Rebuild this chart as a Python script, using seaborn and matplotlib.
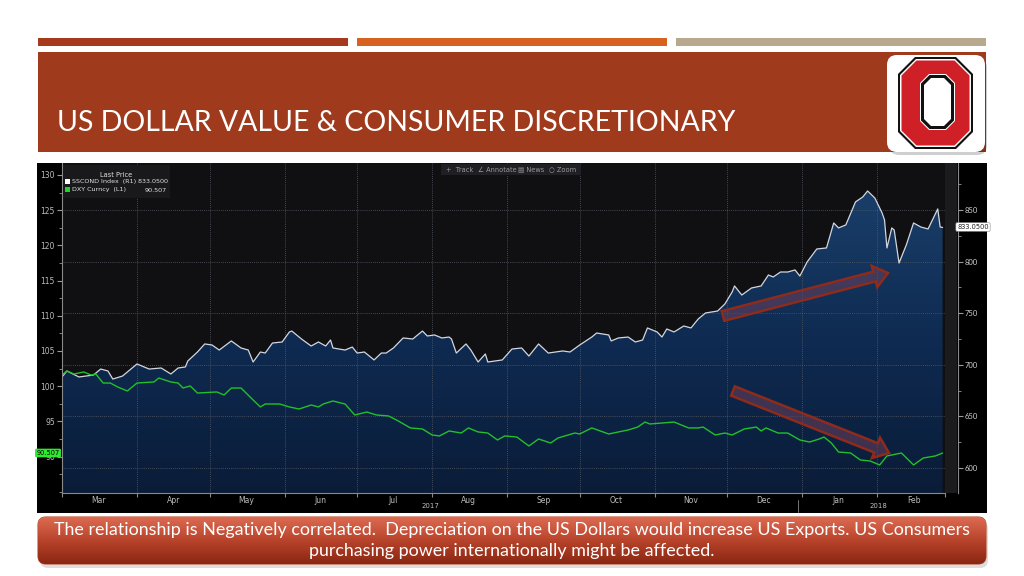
import numpy as np
import pandas as pd
import matplotlib
matplotlib.use("Agg")
import matplotlib.pyplot as plt
import matplotlib.dates as mdates
from matplotlib.ticker import MultipleLocator, NullFormatter
from matplotlib.patches import Rectangle, FancyBboxPatch, Polygon, FancyArrow
from matplotlib.colors import LinearSegmentedColormap
import seaborn as sns

sns.set_style("ticks")
plt.rcParams["font.family"] = ["Lato", "DejaVu Sans"]

title = "US DOLLAR VALUE & CONSUMER DISCRETIONARY"
caption = ["The relationship is Negatively correlated.  Depreciation on the US Dollars would increase US Exports. US Consumers",
           "purchasing power internationally might be affected."]
month_labels_year = ["2017", "2018"]

start = pd.Timestamp("2017-03-01")

# S5COND Index (right axis), days after 2017-03-01
sscond_day = [0, 2, 7, 13, 16, 19, 21, 25, 31, 36, 41, 45, 48, 51, 52, 56, 59, 62, 65, 70,
              74, 77, 79, 82, 84, 87, 91, 94, 95, 99, 103, 106, 109, 111, 112, 117, 120, 122, 125, 129,
              132, 134, 137, 141, 145, 147, 149, 151, 154, 157, 160, 161, 163, 167, 169, 172, 175, 176, 182, 186,
              190, 193, 197, 201, 207, 210, 214, 219, 221, 226, 227, 230, 234, 237, 240, 242, 246, 248, 250, 253,
              257, 260, 263, 266, 271, 274, 277, 278, 281, 285, 289, 292, 294, 297, 300, 303, 305, 308, 312, 316,
              319, 321, 324, 328, 331, 333, 336, 339, 340, 341, 343, 344, 346, 349, 352, 355, 358, 362, 363, 364]
sscond_val = [688.2, 694.0, 688.2, 690.1, 695.9, 694.0, 686.2, 689.1, 700.8, 695.9, 696.9, 691.1, 696.9, 697.9, 703.7, 712.4, 720.2, 719.2, 714.3, 723.1,
              716.3, 714.3, 702.7, 712.4, 711.4, 721.1, 722.1, 731.8, 732.7, 725.0, 718.2, 722.1, 718.2, 724.0, 716.3, 714.3, 717.2, 711.4, 712.4, 704.7,
              711.4, 711.4, 716.3, 726.0, 725.0, 728.9, 732.7, 727.9, 728.9, 726.0, 726.9, 725.0, 711.4, 720.2, 714.3, 702.7, 710.5, 702.7, 704.7, 715.3,
              716.3, 708.5, 720.2, 711.4, 713.4, 712.4, 719.2, 726.9, 730.8, 728.9, 723.1, 726.0, 726.9, 722.1, 724.0, 735.7, 731.8, 726.9, 734.7, 731.8,
              737.6, 735.7, 744.4, 750.2, 752.1, 758.9, 770.5, 776.4, 767.6, 774.4, 776.4, 787.0, 785.1, 789.9, 789.9, 791.9, 786.0, 799.6, 812.2, 813.2,
              837.4, 832.6, 835.5, 857.8, 862.6, 868.4, 861.6, 847.1, 840.3, 813.2, 832.6, 830.6, 798.6, 816.1, 837.4, 833.5, 831.6, 851.0, 833.5, 833.05]

# DXY Curncy (left axis)
dxy_day = [0, 2, 5, 9, 12, 14, 17, 20, 23, 27, 31, 38, 40, 45, 48, 50, 53, 56, 64, 67,
           70, 74, 79, 82, 84, 90, 94, 98, 103, 106, 108, 112, 117, 121, 126, 130, 135, 139, 144, 149,
           153, 156, 160, 165, 168, 172, 176, 180, 183, 188, 193, 197, 202, 205, 212, 214, 219, 226, 230, 234,
           238, 241, 243, 248, 253, 259, 263, 265, 270, 274, 277, 282, 287, 289, 291, 296, 300, 305, 309, 313,
           315, 318, 321, 326, 330, 334, 338, 341, 347, 352, 356, 361, 364]
dxy_val = [101.59, 102.16, 101.73, 102.02, 101.59, 101.73, 100.45, 100.45, 99.89, 99.32, 100.45, 100.60, 101.16, 100.60, 100.45, 99.74, 100.03, 99.03, 99.18, 98.75,
           99.74, 99.74, 98.04, 97.05, 97.47, 97.47, 97.05, 96.76, 97.33, 97.05, 97.47, 97.90, 97.47, 95.91, 96.33, 95.91, 95.77, 95.06, 94.07, 93.92,
           93.07, 92.93, 93.64, 93.35, 94.07, 93.50, 93.35, 92.36, 92.93, 92.78, 91.51, 92.50, 91.93, 92.64, 93.35, 93.21, 94.07, 93.21, 93.50, 93.78,
           94.20, 94.91, 94.63, 94.77, 94.91, 94.07, 94.07, 94.20, 93.07, 93.35, 93.07, 93.92, 94.20, 93.64, 94.07, 93.35, 93.35, 92.36, 92.07, 92.50,
           92.78, 91.93, 90.65, 90.51, 89.52, 89.38, 88.81, 90.09, 90.51, 88.81, 89.80, 90.09, 90.507]

sscond_last = "833.0500"
dxy_last = "90.507"

sscond = pd.DataFrame({"date": start + pd.to_timedelta(sscond_day, unit="D"), "value": sscond_val})
dxy = pd.DataFrame({"date": start + pd.to_timedelta(dxy_day, unit="D"), "value": dxy_val})

fig = plt.figure(figsize=(10.24, 5.76), dpi=100)
fig.patch.set_facecolor("white")

# slide background layer, pixel coordinates
bg = fig.add_axes([0, 0, 1, 1], zorder=0)
bg.set_xlim(0, 1024)
bg.set_ylim(576, 0)
bg.axis("off")

for x0, x1, c in [(38, 348, "#a63a1c"), (357, 667, "#d8621f"), (676, 986, "#b8a88e")]:
    bg.add_patch(Rectangle((x0, 38), x1 - x0, 8, color=c, lw=0))
bg.add_patch(Rectangle((38, 52), 948, 100, color="#a03a1c", lw=0))
bg.text(57, 123, title, color="white", fontsize=20.5, va="center", ha="left")

# logo
bg.add_patch(FancyBboxPatch((889, 58), 98, 97, boxstyle="round,pad=0,rounding_size=10",
                            fc="#00000030", ec="none"))
bg.add_patch(FancyBboxPatch((887, 55), 98, 97, boxstyle="round,pad=0,rounding_size=10",
                            fc="white", ec="none"))


def octagon(x0, y0, x1, y1, c):
    return [(x0 + c, y0), (x1 - c, y0), (x1, y0 + c), (x1, y1 - c),
            (x1 - c, y1), (x0 + c, y1), (x0, y1 - c), (x0, y0 + c)]


for box, c, col in [((898, 57, 973, 149), 17, "#111111"), ((900, 59, 971, 147), 16, "white"),
                    ((901.5, 60.5, 969.5, 145.5), 15, "#cf2027"), ((920, 74, 955, 130), 9, "white"),
                    ((921, 75, 954, 129), 8.5, "#111111"), ((924, 78, 951, 126), 7, "white")]:
    bg.add_patch(Polygon(octagon(*box, c), closed=True, fc=col, ec="none"))

# bloomberg chart backdrop
bg.add_patch(Rectangle((37, 163), 950, 350, color="black", lw=0))
bg.add_patch(Rectangle((945, 163), 12, 330, color="#1b1b1d", lw=0))
bg.text(430, 506, month_labels_year[0], color="#bdbdbd", fontsize=5, ha="center", va="center", family=["DejaVu Sans"])
bg.text(878, 506, month_labels_year[1], color="#bdbdbd", fontsize=5, ha="center", va="center", family=["DejaVu Sans"])
bg.plot([798, 798], [500, 512], color="#8a8a8a", lw=0.6)

# caption box
shadow = FancyBboxPatch((40, 521), 948, 47, boxstyle="round,pad=0,rounding_size=8", fc="#00000022", ec="none")
bg.add_patch(shadow)
cap_box = FancyBboxPatch((38, 517), 948, 47, boxstyle="round,pad=0,rounding_size=8", fc="none", ec="#b84a30", lw=0.8)
bg.add_patch(cap_box)
cap_cmap = LinearSegmentedColormap.from_list("cap", ["#dc6b52", "#b8432b", "#8a2712"])
im_cap = bg.imshow(np.linspace(0, 1, 128).reshape(-1, 1), cmap=cap_cmap, aspect="auto",
                   extent=[38, 986, 564, 517], zorder=1)
im_cap.set_clip_path(cap_box)
bg.set_xlim(0, 1024)
bg.set_ylim(576, 0)
bg.text(512, 530, caption[0], color="white", fontsize=12.9, ha="center", va="center", zorder=3)
bg.text(512, 551, caption[1], color="white", fontsize=12.9, ha="center", va="center", zorder=3)

# chart axes: S5COND on the right with area fill
ax = fig.add_axes([62 / 1024, 1 - 493 / 576, 883 / 1024, 330 / 576])
ax.set_zorder(2)
ax.set_facecolor("#101013")
sns.lineplot(data=sscond, x="date", y="value", ax=ax, color="#d3d6de", lw=0.9, zorder=4)

y_lo, y_hi = 575.8, 895.5
xs = mdates.date2num(sscond["date"])
poly = ax.fill_between(xs, sscond["value"], y_lo, color="none", lw=0)
area_cmap = LinearSegmentedColormap.from_list("area", ["#0a1c38", "#0f2b52", "#1a406b"])
im_area = ax.imshow(np.linspace(0, 1, 256).reshape(-1, 1), cmap=area_cmap, origin="lower",
                    aspect="auto", extent=[xs[0], xs[-1], y_lo, 880], zorder=1)
im_area.set_clip_path(poly.get_paths()[0], transform=ax.transData)

ax.set_xlim(start, start + pd.Timedelta(days=365))
ax.set_ylim(y_lo, y_hi)
ax.set_xlabel("")
ax.set_ylabel("")

# DXY on the left (twin created first, since twinx resets tick sides)
axl = ax.twinx()
axl.set_zorder(3)
sns.lineplot(data=dxy, x="date", y="value", ax=axl, color="#22c02a", lw=1.0)
axl.set_ylim(84.83, 131.7)
axl.set_xlabel("")
axl.set_ylabel("")

ax.xaxis.set_major_locator(mdates.MonthLocator())
ax.xaxis.set_major_formatter(NullFormatter())
ax.xaxis.set_minor_locator(mdates.MonthLocator(bymonthday=16))
ax.xaxis.set_minor_formatter(mdates.DateFormatter("%b"))
ax.tick_params(axis="x", which="major", length=3, color="#8a8a8a", bottom=True)
ax.tick_params(axis="x", which="minor", length=0, labelsize=5.5, labelcolor="#bdbdbd", pad=2, bottom=True)
for lab in ax.get_xticklabels(minor=True):
    lab.set_family(["DejaVu Sans"])

ax.yaxis.tick_right()
ax.yaxis.set_label_position("right")
ax.set_yticks([600, 650, 700, 750, 800, 850])
ax.yaxis.set_minor_locator(MultipleLocator(25))
ax.tick_params(axis="y", which="both", right=True, left=False, labelright=True, labelleft=False,
               color="#9a9a9a", labelcolor="#d0d0d0", labelsize=5.5, pad=1.5)
ax.tick_params(axis="y", which="major", length=3.5)
ax.tick_params(axis="y", which="minor", length=2)
for lab in ax.get_yticklabels():
    lab.set_family(["DejaVu Sans"])

for side in ["top", "left"]:
    ax.spines[side].set_visible(False)
ax.spines["right"].set_position(("outward", 9))
ax.spines["right"].set_color("#8a8a8a")
ax.spines["bottom"].set_color("#8a8a8a")
ax.spines["right"].set_linewidth(0.8)
ax.spines["bottom"].set_linewidth(0.8)
ax.set_axisbelow(False)
ax.grid(True, which="major", color="#565b66", linestyle=(0, (1, 1.5)), linewidth=0.6)

axl.yaxis.tick_left()
axl.yaxis.set_label_position("left")
axl.set_yticks([90, 95, 100, 105, 110, 115, 120, 125, 130])
axl.yaxis.set_minor_locator(MultipleLocator(2.5))
axl.tick_params(axis="y", which="both", left=True, right=False, labelleft=True, labelright=False,
                color="#9a9a9a", labelcolor="#bdbdbd", labelsize=5.5, pad=1.5)
axl.tick_params(axis="y", which="major", length=3.5)
axl.tick_params(axis="y", which="minor", length=2)
for lab in axl.get_yticklabels():
    lab.set_family(["DejaVu Sans"])
for side in ["top", "right", "bottom"]:
    axl.spines[side].set_visible(False)
axl.spines["left"].set_visible(True)
axl.spines["left"].set_color("#8a8a8a")
axl.spines["left"].set_linewidth(0.8)
axl.grid(False)

# overlay: legend, toolbar, price tags, arrows
fg = fig.add_axes([0, 0, 1, 1], zorder=5)
fg.set_xlim(0, 1024)
fg.set_ylim(576, 0)
fg.axis("off")
fg.patch.set_alpha(0)

mono = ["DejaVu Sans"]
fg.add_patch(Rectangle((63, 165), 107, 33, color="#19191b", lw=0))
fg.text(116, 175, "Last Price", color="#e0e0e0", fontsize=4.8, ha="center", va="center", family=mono)
fg.add_patch(Rectangle((65, 179), 5, 5, color="white", lw=0))
fg.add_patch(Rectangle((65, 187), 5, 5, color="#22d42a", lw=0))
fg.text(72, 182, "SSCOND Index  (R1) " + sscond_last, color="#e0e0e0", fontsize=4.6, va="center", family=mono)
fg.text(72, 190, "DXY Curncy  (L1)", color="#e0e0e0", fontsize=4.6, va="center", family=mono)
fg.text(167, 190, dxy_last, color="#e0e0e0", fontsize=4.6, va="center", ha="right", family=mono)

fg.add_patch(Rectangle((441, 164), 140, 11, color="#202024", lw=0))
for x, s in [(446, "+  Track"), (478, "\u2220 Annotate"), (518, "\u25a4 News"), (549, "\u25cb Zoom")]:
    fg.text(x, 169.5, s, color="#9a9a9a", fontsize=4.8, va="center", family=mono)

fg.text(48, 453, dxy_last, color="black", fontsize=4.8, ha="center", va="center", family=mono,
        bbox=dict(boxstyle="round,pad=0.2", fc="#2fe830", ec="none"))
fg.text(973, 227, sscond_last, color="#222222", fontsize=4.8, ha="center", va="center", family=mono,
        bbox=dict(boxstyle="round,pad=0.2", fc="white", ec="#888888", lw=0.4))

for (x0, y0), (x1, y1) in [((723, 316), (888, 273)), ((733, 391), (889, 453))]:
    fg.add_patch(FancyArrow(x0, y0, x1 - x0, y1 - y0, width=10, head_width=22, head_length=14,
                            length_includes_head=True, fc=(0.42, 0.25, 0.36, 0.55),
                            ec="#8e2b1a", lw=1.8))

fig.savefig("out.png", dpi=100, facecolor="white")
